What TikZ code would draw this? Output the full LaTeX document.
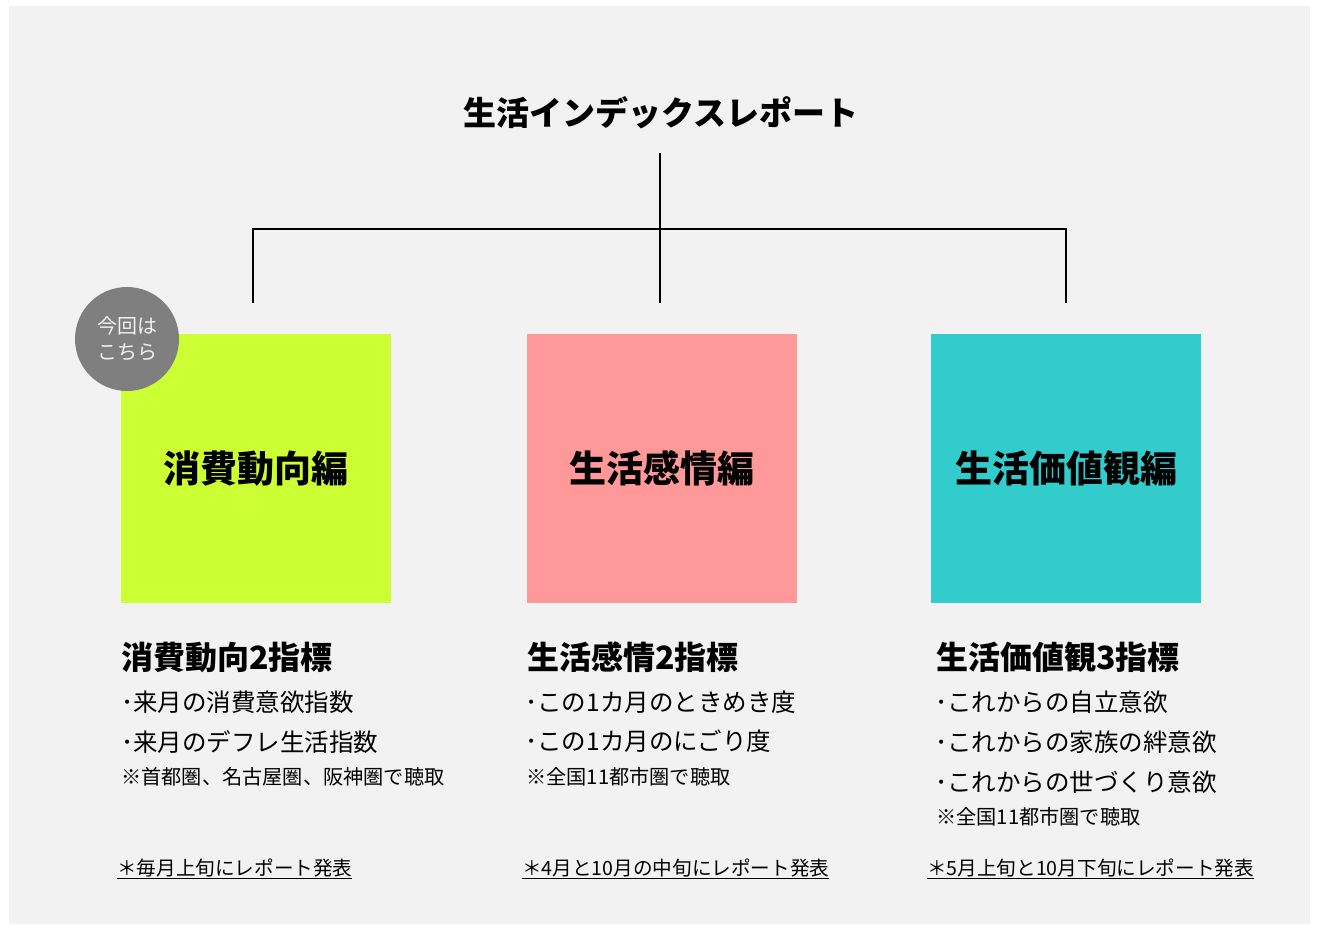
\documentclass[tikz,border=0pt]{standalone}
\usepackage{fontspec}
\setmainfont{Noto Sans CJK JP}
\definecolor{bgc}{HTML}{F2F2F2}
\definecolor{cgreen}{HTML}{CCFF33}
\definecolor{cpink}{HTML}{FF9999}
\definecolor{cteal}{HTML}{33CCCC}
\definecolor{cgray}{HTML}{7F7F7F}
\begin{document}
\begin{tikzpicture}[x=1pt,y=-1pt,
  box/.style={minimum width=270pt, minimum height=269pt, inner sep=0pt, font=\bfseries\fontsize{37}{40}\selectfont},
  head/.style={anchor=west, inner sep=0pt, font=\bfseries\fontsize{32}{36}\selectfont},
  item/.style={anchor=west, inner sep=0pt, font=\fontsize{24.5}{28}\selectfont},
  note/.style={anchor=west, inner sep=0pt, font=\fontsize{20.2}{24}\selectfont},
  foot/.style={anchor=west, inner sep=0pt, font=\fontsize{19.6}{24}\selectfont},
  conn/.style={line width=2pt, black, line join=miter}
]
\useasboundingbox (0,0) rectangle (1318,926);
\fill[white] (0,0) rectangle (1318,926);
\fill[bgc] (9,6) rectangle (1310,924);

% title
\node[inner sep=0pt, font=\bfseries\fontsize{33}{36}\selectfont] (title) at (661,113) {生活インデックスレポート};

% connectors
\coordinate (top) at (660,153);
\coordinate (Cb) at (660,303);
\coordinate (L) at (253,229);
\coordinate (R) at (1066,229);
\coordinate (Lb) at (253,303);
\coordinate (Rb) at (1066,303);
\draw[conn] (top) -- (Cb);
\draw[conn] (Lb) -- (L) -- (R) -- (Rb);

% boxes
\node[box, fill=cgreen] (b1) at (256,468.5) {消費動向編};
\node[box, fill=cpink] (b2) at (662,468.5) {生活感情編};
\node[box, fill=cteal] (b3) at (1066,468.5) {生活価値観編};

% badge
\node[circle, fill=cgray, minimum size=104pt, inner sep=0pt, align=center, text=bgc,
  font=\fontsize{20}{26}\selectfont] (badge) at (127,339) {今回は\\こちら};

% column 1
\node[head] (h1) at (121,657) {消費動向2指標};
\node[item] (i11) at (121,702) {･来月の消費意欲指数};
\node[item] (i12) at (121,742) {･来月のデフレ生活指数};
\node[note] (n1) at (121,777) {※首都圏、名古屋圏、阪神圏で聴取};
\node[foot] (f1) at (117,869) {\underline{＊毎月上旬にレポート発表}};

% column 2
\node[head] (h2) at (527,657) {生活感情2指標};
\node[item] (i21) at (525,702) {･この1カ月のときめき度};
\node[item] (i22) at (525,741) {･この1カ月のにごり度};
\node[note] (n2) at (526,777) {※全国11都市圏で聴取};
\node[foot] (f2) at (522,869) {\underline{＊4月と10月の中旬にレポート発表}};

% column 3
\node[head] (h3) at (936,657) {生活価値観3指標};
\node[item] (i31) at (935,702) {･これからの自立意欲};
\node[item] (i32) at (935,742) {･これからの家族の絆意欲};
\node[item] (i33) at (935,782) {･これからの世づくり意欲};
\node[note] (n3) at (936,817) {※全国11都市圏で聴取};
\node[foot] (f3) at (927,869) {\underline{＊5月上旬と10月下旬にレポート発表}};
\end{tikzpicture}
\end{document}
